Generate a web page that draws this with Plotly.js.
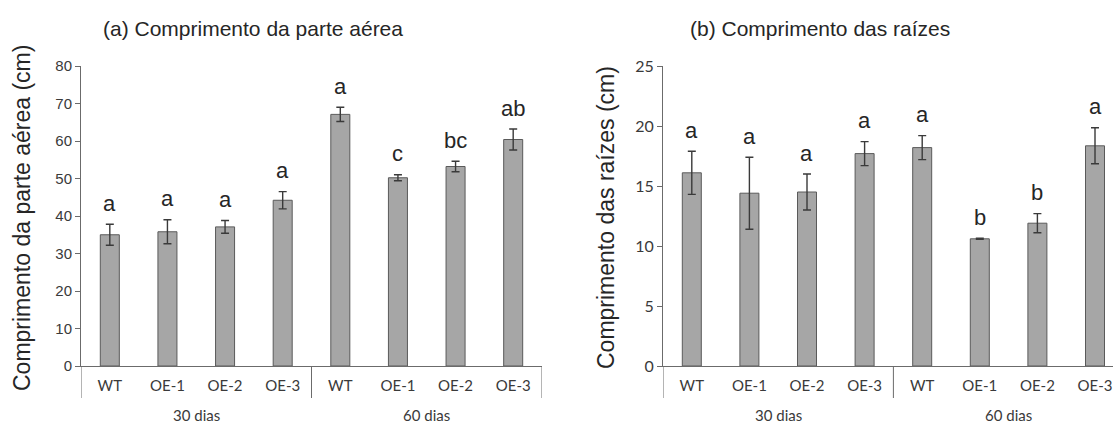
<!DOCTYPE html>
<html>
<head>
<meta charset="utf-8">
<script src="https://cdn.plot.ly/plotly-3.0.1.min.js"></script>
<style>html,body{margin:0;padding:0;background:#fff;}#chart{width:1113px;height:425px;}</style>
</head>
<body>
<div id="chart"></div>
<script>
// ---- data ----
const groups = ['30 dias','30 dias','30 dias','30 dias','60 dias','60 dias','60 dias','60 dias'];
const lines = ['WT','OE-1','OE-2','OE-3','WT','OE-1','OE-2','OE-3'];
const shootMean = [35.0, 35.8, 37.1, 44.2, 67.1, 50.2, 53.2, 60.4];
const shootErr = [2.8, 3.2, 1.7, 2.3, 1.9, 0.8, 1.4, 2.8];
const shootLetters = ['a','a','a','a','a','c','bc','ab'];
const rootMean = [16.1, 14.4, 14.5, 17.7, 18.2, 10.6, 11.9, 18.35];
const rootErr = [1.8, 3.0, 1.5, 1.0, 1.0, 0.05, 0.8, 1.5];
const rootLetters = ['a','a','a','a','a','b','b','a'];
const panelTitles = ['(a) Comprimento da parte aérea', '(b) Comprimento das raízes'];
const yTitles = ['Comprimento da parte aérea (cm)', 'Comprimento das raízes (cm)'];

// ---- styling ----
const W = 1113, H = 425;
const idx = lines.map((_, i) => i);
const barFill = '#a6a6a6', barLine = '#5a5a5a', axisCol = '#6b6b6b', textCol = '#3a3a3a', titleCol = '#262626';
const yBottom = (H - 366) / H, yTop = (H - 66) / H;

function barTrace(mean, err, xa, ya) {
  return {
    type: 'bar', x: idx, y: mean, xaxis: xa, yaxis: ya, width: 0.33,
    marker: {color: barFill, line: {color: barLine, width: 1}},
    error_y: {type: 'data', array: err, visible: true, color: '#3a3a3a', thickness: 1.4, width: 4},
    hoverinfo: 'skip', showlegend: false
  };
}

const data = [barTrace(shootMean, shootErr, 'x', 'y'), barTrace(rootMean, rootErr, 'x2', 'y2')];

const annotations = [];
const shapes = [];
function addLetters(mean, err, letters, xr, yr) {
  letters.forEach((t, i) => {
    annotations.push({xref: xr, yref: yr, x: i, y: mean[i] + err[i], text: t, showarrow: false,
      yanchor: 'middle', yshift: 21, font: {family: 'Liberation Sans, Arial', size: 22, color: titleCol}});
  });
}
addLetters(shootMean, shootErr, shootLetters, 'x', 'y');
addLetters(rootMean, rootErr, rootLetters, 'x2', 'y2');

function addGroups(xr) {
  const uniq = [...new Set(groups)];
  uniq.forEach(g => {
    const members = idx.filter(i => groups[i] === g);
    const mid = members.reduce((a, b) => a + b, 0) / members.length;
    annotations.push({xref: xr, yref: 'paper', x: mid, y: (H - 415) / H, text: g, showarrow: false,
      yanchor: 'middle', font: {family: 'Lato, Open Sans', size: 15, color: textCol}});
  });
  const bounds = [-0.5];
  for (let i = 1; i < groups.length; i++) if (groups[i] !== groups[i - 1]) bounds.push(i - 0.5);
  bounds.push(groups.length - 0.5);
  bounds.forEach(b => shapes.push({type: 'line', xref: xr, yref: 'paper', x0: b, x1: b,
    y0: yBottom, y1: (H - 398) / H, line: {color: axisCol, width: 1}}));
}
addGroups('x');
addGroups('x2');

annotations.push({xref: 'paper', yref: 'paper', x: 101 / W, y: (H - 28) / H, xanchor: 'left', yanchor: 'middle',
  text: panelTitles[0], showarrow: false, font: {family: 'Liberation Sans, Arial', size: 21, color: titleCol}});
annotations.push({xref: 'paper', yref: 'paper', x: 688 / W, y: (H - 28) / H, xanchor: 'left', yanchor: 'middle',
  text: panelTitles[1], showarrow: false, font: {family: 'Liberation Sans, Arial', size: 21, color: titleCol}});
annotations.push({xref: 'paper', yref: 'paper', x: 22 / W, y: (H - 218) / H, xanchor: 'center', yanchor: 'middle',
  textangle: -90, text: yTitles[0], showarrow: false, font: {family: 'Liberation Sans, Arial', size: 23, color: titleCol}});
annotations.push({xref: 'paper', yref: 'paper', x: 606 / W, y: (H - 218) / H, xanchor: 'center', yanchor: 'middle',
  textangle: -90, text: yTitles[1], showarrow: false, font: {family: 'Liberation Sans, Arial', size: 23, color: titleCol}});

function xAxis(domain, range) {
  return {domain: domain, range: range, tickvals: idx, ticktext: lines, ticks: '', showline: true,
    linecolor: axisCol, linewidth: 1, showgrid: false, zeroline: false, fixedrange: true,
    ticklabelstandoff: 6, ticklabeloverflow: 'allow',
    tickfont: {family: 'Lato, Open Sans', size: 15, color: textCol}};
}
function yAxis(range, dtick, font, anchor) {
  return {domain: [yBottom, yTop], range: range, dtick: dtick, ticks: 'outside', ticklen: 5, tickcolor: axisCol,
    showline: true, linecolor: axisCol, linewidth: 1, showgrid: false, zeroline: false, anchor: anchor,
    tickfont: font};
}

const layout = {
  width: W, height: H, margin: {l: 0, r: 0, t: 0, b: 0}, paper_bgcolor: '#fff', plot_bgcolor: '#fff',
  showlegend: false, bargap: 0,
  xaxis: Object.assign(xAxis([81 / W, 542 / W], [-0.5, 7.5]), {anchor: 'y'}),
  yaxis: yAxis([0, 80], 10, {family: 'Liberation Sans, Arial', size: 15, color: textCol}, 'x'),
  xaxis2: Object.assign(xAxis([663 / W, 1], [-0.5, -0.5 + 450 / 57.6]), {anchor: 'y2'}),
  yaxis2: yAxis([0, 25], 5, {family: 'Lato, Open Sans', size: 16, color: textCol}, 'x2'),
  annotations: annotations, shapes: shapes
};

Plotly.newPlot('chart', data, layout, {displayModeBar: false, staticPlot: true});
</script>
</body>
</html>
